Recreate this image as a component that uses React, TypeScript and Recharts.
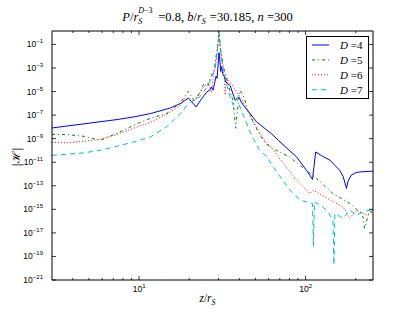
import { LineChart, Line, XAxis, YAxis } from 'recharts';

// |H| against z/r_S for D = 4..7
const zD4 = [3.0, 4.66, 7.38, 9.3, 11.7, 15.4, 17.7, 19.8, 22.0, 23.5, 25.5, 26.5, 27.2, 27.8, 28.4, 29.0, 29.4, 29.8, 30.2, 30.5, 30.9, 31.3, 31.8, 32.4, 33.2, 34.2, 35.2, 37.8, 39.5, 42.3, 50.9, 64, 68.5, 88.3, 101, 106, 110, 115, 125, 140, 160, 168, 176, 180, 188, 200, 211, 254];
const hD4 = [8.1e-9, 1.8e-8, 4.2e-8, 7e-8, 1.35e-7, 4.0e-7, 9.5e-7, 2.8e-6, 4.9e-7, 2e-6, 9.1e-6, 1.3e-5, 2.5e-5, 1.3e-5, 5e-5, 2e-4, 1.3e-4, 1.6e-3, 2e-2, 6.3e-3, 5e-4, 1.3e-3, 3.2e-4, 2e-4, 6.3e-5, 5e-5, 3.2e-5, 1.8e-6, 3.4e-6, 6.8e-7, 2.6e-8, 1.95e-9, 7.2e-10, 2.8e-11, 2.1e-12, 7.9e-13, 3.4e-13, 7.4e-11, 3.5e-11, 1.5e-11, 2.1e-12, 6.3e-13, 5.9e-14, 2.5e-13, 7.9e-13, 1.3e-12, 1.5e-12, 1.74e-12];

const zD5 = [3.0, 3.71, 4.66, 5.86, 7.38, 9.29, 11.7, 14.7, 17.7, 19.8, 21.5, 22.7, 24.6, 25.8, 26.8, 27.6, 28.4, 29.0, 29.5, 29.9, 30.2, 30.5, 30.9, 31.4, 32.0, 32.8, 33.6, 35.2, 36.7, 38.0, 39.3, 40.4, 42.7, 45.3, 53.2, 58.4, 64, 80.5, 92.5, 116, 146, 184, 200, 221, 226, 240, 254];
const hD5 = [2.3e-9, 2.2e-9, 1.6e-9, 7.2e-10, 2.9e-9, 1.4e-8, 5.4e-8, 1.4e-7, 1.2e-6, 1.05e-5, 1.5e-6, 4.8e-6, 5e-5, 2.5e-5, 1.3e-4, 4e-4, 1e-3, 1e-2, 4e-2, 0.25, 0.9, 0.2, 2.5e-2, 1e-2, 1.6e-3, 4e-4, 1.2e-4, 9.1e-6, 1.8e-6, 7.6e-9, 6.8e-7, 1.26e-5, 3.2e-6, 1.8e-7, 1.95e-9, 3.2e-10, 1.4e-10, 2.6e-11, 5.6e-12, 4.2e-13, 2.2e-14, 3.2e-15, 1.2e-15, 2.3e-16, 2.5e-17, 5e-16, 8.5e-16];

const zD6 = [3.0, 3.71, 4.66, 5.86, 7.38, 9.29, 11.7, 14.7, 17.7, 19.1, 21.0, 22.7, 24.5, 26.0, 27.3, 27.9, 28.7, 29.3, 29.8, 30.2, 30.6, 31.1, 31.8, 32.5, 32.9, 33.4, 35.2, 38.6, 40.4, 43.3, 48.6, 55.8, 64, 73.5, 88.3, 106, 111, 140, 168, 184, 202, 232, 254];
const hD6 = [4.9e-10, 4.4e-10, 6e-10, 8.9e-10, 2.3e-9, 7.6e-9, 2.45e-8, 1.2e-7, 6.8e-7, 3.2e-6, 1.26e-6, 5e-6, 2.5e-5, 5e-5, 7.9e-6, 2e-4, 1e-3, 1e-2, 0.1, 0.7, 0.1, 1e-2, 1e-3, 2.5e-4, 5e-6, 1.6e-4, 6.5e-5, 9.1e-6, 3.4e-6, 6.8e-7, 2.6e-8, 1e-9, 1.05e-10, 7.8e-12, 3e-13, 2.2e-14, 4.3e-14, 6.3e-15, 1.6e-15, 1.7e-16, 8.5e-16, 3.2e-16, 6.2e-16];

const zD7 = [3.0, 3.71, 4.66, 5.86, 7.38, 9.29, 11.7, 14.7, 17.7, 19.4, 21.7, 23.0, 24.5, 25.5, 26.5, 27.3, 28.0, 28.7, 29.3, 29.8, 30.2, 30.6, 31.1, 31.7, 32.1, 34.4, 36.8, 38.6, 42.3, 46.4, 52.1, 58.4, 67, 80.5, 92.5, 101, 110, 111.5, 113, 127, 136, 146, 148, 150, 168, 184, 202, 221, 242, 254];
const hD7 = [3.9e-11, 4.8e-11, 6.2e-11, 1.05e-10, 2.3e-10, 5.2e-10, 1.4e-9, 1.1e-8, 1.35e-7, 6.8e-7, 2.6e-6, 3.2e-6, 1e-5, 2.5e-5, 6.3e-5, 2e-4, 4e-4, 1.6e-3, 1.6e-2, 0.16, 1.26, 0.16, 1.6e-2, 2.5e-3, 8.7e-4, 9.1e-6, 6.8e-7, 2.5e-6, 9.5e-8, 3.7e-9, 1.45e-10, 2.8e-11, 1.5e-12, 4.3e-14, 6e-15, 4.4e-15, 3.2e-15, 6.6e-19, 4.4e-15, 1.6e-15, 6.2e-16, 1.2e-16, 1.9e-20, 4.5e-16, 1.7e-16, 8.5e-16, 3.2e-16, 6.2e-16, 8.5e-16, 1.2e-15];

const xMajor = [10, 100];
const xMinor = [4, 5, 6, 7, 8, 9, 20, 30, 40, 50, 60, 70, 80, 90, 200];
const yMajor = [1e-1, 1e-3, 1e-5, 1e-7, 1e-9, 1e-11, 1e-13, 1e-15, 1e-17, 1e-19, 1e-21];

const series = [
  { key: 'D4', label: '4', z: zD4, h: hD4, color: '#0000ff', dash: undefined },
  { key: 'D5', label: '5', z: zD5, h: hD5, color: '#008000', dash: '3 3 1 3' },
  { key: 'D6', label: '6', z: zD6, h: hD6, color: '#ff0000', dash: '1 2' },
  { key: 'D7', label: '7', z: zD7, h: hD7, color: '#00bfbf', dash: '5 4' },
];

const TICK_FONT = '"Liberation Sans", "DejaVu Sans", sans-serif';
const MATH_FONT = '"Liberation Serif", "DejaVu Serif", serif';

const exponent = (v: number) => Math.round(Math.log10(v)).toString().replace('-', '\u2212');

function BottomTick({ x, y, payload }: any) {
  const major = xMajor.includes(payload.value);
  return (
    <g>
      <line x1={x} x2={x} y1={y} y2={y - (major ? 4 : 2)} stroke="#000" strokeWidth={0.8} />
      {major && (
        <text x={x} y={y + 12} textAnchor="middle" fontSize={8.5} fontFamily={TICK_FONT}>
          10<tspan dy={-4} fontSize={6}>{exponent(payload.value)}</tspan>
        </text>
      )}
    </g>
  );
}

function TopTick({ x, y, payload }: any) {
  const major = xMajor.includes(payload.value);
  return <line x1={x} x2={x} y1={y} y2={y + (major ? 4 : 2)} stroke="#000" strokeWidth={0.8} />;
}

function LeftTick({ x, y, payload }: any) {
  return (
    <g>
      <line x1={x} x2={x + 4} y1={y} y2={y} stroke="#000" strokeWidth={0.8} />
      <text x={x - 9} y={y + 3} textAnchor="end" fontSize={8.5} fontFamily={TICK_FONT}>
        10<tspan dy={-4} fontSize={6}>{exponent(payload.value)}</tspan>
      </text>
    </g>
  );
}

function RightTick({ x, y }: any) {
  return <line x1={x} x2={x - 4} y1={y} y2={y} stroke="#000" strokeWidth={0.8} />;
}

// r with a stacked superscript / subscript, like mathtext r_S^{D-3}
function SubSup({ sup, sub, width }: { sup?: React.ReactNode; sub: React.ReactNode; width: number }) {
  const small = { position: 'absolute' as const, left: 0, fontSize: 8, lineHeight: '9px', whiteSpace: 'nowrap' as const };
  return (
    <span style={{ position: 'relative', display: 'inline-block', width, height: 0 }}>
      {sup && <span style={{ ...small, top: -15 }}>{sup}</span>}
      <span style={{ ...small, top: -4 }}>{sub}</span>
    </span>
  );
}

export default function App() {
  const xDomain = [3, 254];
  const yDomain = [1e-21, 1.38];

  return (
    <div style={{ position: 'absolute', left: 0, top: 0, width: 415, height: 312, background: '#fff' }}>
      <div
        style={{
          position: 'absolute',
          left: 0,
          width: 415,
          top: 9,
          textAlign: 'center',
          fontFamily: MATH_FONT,
          fontSize: 12.5,
          lineHeight: '16px',
          whiteSpace: 'nowrap',
        }}
      >
        <i>P</i>/<i>r</i>
        <SubSup
          width={20}
          sup={
            <>
              <i>D</i>
              {'\u2212'}3
            </>
          }
          sub={<i>S</i>}
        />
        =0.8, <i>b</i>/<i>r</i>
        <SubSup width={8} sub={<i>S</i>} />
        =30.185, <i>n</i> =300
      </div>

      <LineChart width={415} height={312} margin={{ top: 0, right: 0, bottom: 0, left: 0 }}>
        <XAxis
          xAxisId="bottom"
          dataKey="z"
          type="number"
          scale="log"
          domain={xDomain}
          allowDataOverflow
          ticks={[...xMinor, ...xMajor]}
          interval={0}
          height={32}
          tickSize={0}
          tickMargin={0}
          tickLine={false}
          tick={<BottomTick />}
          axisLine={{ stroke: '#000' }}
        />
        <XAxis
          xAxisId="top"
          orientation="top"
          dataKey="z"
          type="number"
          scale="log"
          domain={xDomain}
          allowDataOverflow
          ticks={[...xMinor, ...xMajor]}
          interval={0}
          height={31}
          tickSize={0}
          tickMargin={0}
          tickLine={false}
          tick={<TopTick />}
          axisLine={{ stroke: '#000' }}
        />
        <YAxis
          yAxisId="left"
          dataKey="h"
          type="number"
          scale="log"
          domain={yDomain}
          allowDataOverflow
          ticks={yMajor}
          interval={0}
          width={52}
          tickSize={0}
          tickMargin={0}
          tickLine={false}
          tick={<LeftTick />}
          axisLine={{ stroke: '#000' }}
        />
        <YAxis
          yAxisId="right"
          orientation="right"
          type="number"
          scale="log"
          domain={yDomain}
          allowDataOverflow
          ticks={yMajor}
          interval={0}
          width={42}
          tickSize={0}
          tickMargin={0}
          tickLine={false}
          tick={<RightTick />}
          axisLine={{ stroke: '#000' }}
        />
        {series.map((s) => (
          <Line
            key={s.key}
            xAxisId="bottom"
            yAxisId="left"
            data={s.z.map((z, i) => ({ z, h: s.h[i] }))}
            dataKey="h"
            type="linear"
            stroke={s.color}
            strokeWidth={1}
            strokeDasharray={s.dash}
            dot={false}
            activeDot={false}
            isAnimationActive={false}
          />
        ))}
      </LineChart>

      <svg style={{ position: 'absolute', left: 306, top: 36 }} width={63} height={63}>
        <rect x={0.5} y={0.5} width={62} height={62} fill="#fff" stroke="#000" strokeWidth={1} />
        {series.map((s, i) => (
          <g key={s.key}>
            <line
              x1={6}
              x2={23}
              y1={9 + i * 14.9}
              y2={9 + i * 14.9}
              stroke={s.color}
              strokeWidth={1}
              strokeDasharray={s.dash}
            />
            <text x={34} y={13 + i * 14.9} fontSize={11} fontFamily={MATH_FONT}>
              <tspan fontStyle="italic">D</tspan> =
              {s.label}
            </text>
          </g>
        ))}
      </svg>

      <div
        style={{
          position: 'absolute',
          left: 0,
          width: 415,
          top: 292,
          textAlign: 'center',
          fontFamily: MATH_FONT,
          fontSize: 11.5,
        }}
      >
        <i>z</i>/<i>r</i>
        <sub style={{ fontSize: 8 }}>
          <i>S</i>
        </sub>
      </div>

      <div
        style={{
          position: 'absolute',
          left: 15,
          top: 157,
          transform: 'translate(-50%, -50%) rotate(-90deg)',
          fontFamily: '"DejaVu Serif", serif',
          fontSize: 11,
          whiteSpace: 'nowrap',
        }}
      >
        |{'\u210B'}|
      </div>
    </div>
  );
}
